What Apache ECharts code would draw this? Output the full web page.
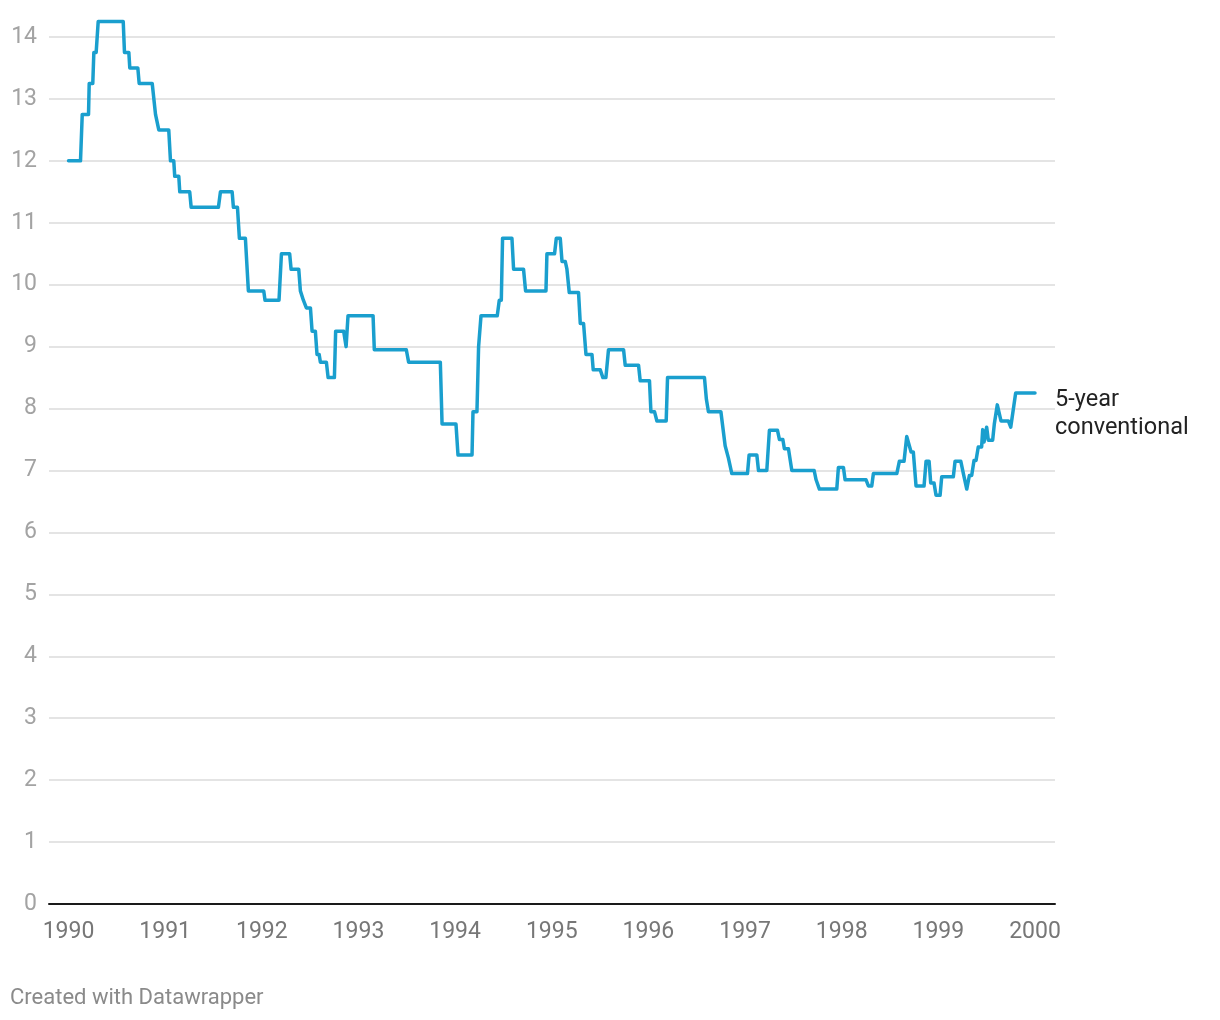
<!DOCTYPE html>
<html>
<head>
<meta charset="utf-8">
<script src="https://cdn.jsdelivr.net/npm/echarts@6/dist/echarts.min.js"></script>
<style>
html,body{margin:0;padding:0;background:#fff;}
#chart{width:1220px;height:1020px;}
</style>
</head>
<body>
<div id="chart"></div>
<script>
// Decimal-year positions and 5-year conventional mortgage rate (%)
const dates = [
1990.000,1990.124,1990.142,1990.207,1990.214,1990.251,1990.262,1990.286,1990.307,1990.566,
1990.579,1990.624,1990.634,1990.717,1990.731,1990.866,1990.900,1990.917,1990.934,1991.037,
1991.055,1991.089,1991.099,1991.141,1991.151,1991.254,1991.269,1991.551,1991.572,1991.693,
1991.706,1991.748,1991.768,1991.830,1991.861,1992.020,1992.033,1992.178,1992.203,1992.288,
1992.303,1992.382,1992.399,1992.416,1992.430,1992.461,1992.503,1992.520,1992.554,1992.571,
1992.593,1992.606,1992.668,1992.686,1992.751,1992.764,1992.847,1992.872,1992.892,1993.151,
1993.164,1993.495,1993.519,1993.847,1993.865,1994.009,1994.030,1994.175,1994.185,1994.226,
1994.243,1994.268,1994.436,1994.457,1994.478,1994.491,1994.588,1994.605,1994.708,1994.729,
1994.940,1994.950,1995.029,1995.047,1995.088,1995.106,1995.140,1995.157,1995.181,1995.277,
1995.295,1995.329,1995.354,1995.416,1995.429,1995.502,1995.529,1995.560,1995.587,1995.743,
1995.760,1995.898,1995.915,1996.011,1996.026,1996.063,1996.088,1996.184,1996.198,1996.580,
1996.600,1996.621,1996.750,1996.794,1996.812,1996.828,1996.846,1996.863,1997.025,1997.042,
1997.122,1997.139,1997.225,1997.252,1997.335,1997.356,1997.391,1997.407,1997.449,1997.484,
1997.715,1997.735,1997.749,1997.769,1997.949,1997.966,1998.018,1998.035,1998.252,1998.276,
1998.311,1998.328,1998.570,1998.597,1998.645,1998.673,1998.690,1998.718,1998.741,1998.769,
1998.852,1998.873,1998.904,1998.921,1998.955,1998.976,1999.018,1999.035,1999.155,1999.173,
1999.232,1999.259,1999.276,1999.294,1999.321,1999.345,1999.369,1999.390,1999.413,1999.448,
1999.459,1999.473,1999.500,1999.517,1999.562,1999.579,1999.593,1999.610,1999.620,1999.648,
1999.724,1999.749,1999.765,1999.800,2000.000
];
const rates = [
12.0,12.0,12.75,12.75,13.25,13.25,13.75,13.75,14.25,14.25,
13.75,13.75,13.5,13.5,13.25,13.25,12.75,12.75,12.5,12.5,
12.0,12.0,11.75,11.75,11.5,11.5,11.25,11.25,11.5,11.5,
11.25,11.25,10.75,10.75,9.9,9.9,9.75,9.75,10.5,10.5,
10.25,10.25,9.9,9.9,9.75,9.625,9.625,9.25,9.25,8.875,
8.875,8.75,8.75,8.5,8.5,9.25,9.25,9.0,9.5,9.5,
8.95,8.95,8.75,8.75,7.75,7.75,7.25,7.25,7.95,7.95,
9.0,9.5,9.5,9.75,9.75,10.75,10.75,10.25,10.25,9.9,
9.9,10.5,10.5,10.75,10.75,10.375,10.375,10.25,9.875,9.875,
9.375,9.375,8.875,8.875,8.625,8.625,8.5,8.5,8.95,8.95,
8.7,8.7,8.45,8.45,7.95,7.95,7.8,7.8,8.5,8.5,
8.15,7.95,7.95,7.4,7.4,7.2,7.2,6.95,6.95,7.25,
7.25,7.0,7.0,7.65,7.65,7.5,7.5,7.35,7.35,7.0,
7.0,6.85,6.85,6.7,6.7,7.05,7.05,6.85,6.85,6.75,
6.75,6.95,6.95,7.15,7.15,7.55,7.55,7.3,7.3,6.75,
6.75,7.15,7.15,6.8,6.8,6.6,6.6,6.9,6.9,7.15,
7.15,6.95,6.95,6.7,6.92,6.92,7.16,7.16,7.38,7.38,
7.66,7.46,7.7,7.49,7.49,7.75,7.75,8.06,8.06,7.8,
7.8,7.7,7.7,8.25,8.25
];
const yearTicks = [1990,1991,1992,1993,1994,1995,1996,1997,1998,1999,2000];
const seriesName = '5-year\nconventional';
const footer = 'Created with Datawrapper';

const chart = echarts.init(document.getElementById('chart'));
chart.setOption({
  animation: false,
  backgroundColor: '#ffffff',
  textStyle: { fontFamily: 'Roboto' },
  title: {
    text: footer, left: 10, top: 987, padding: 0,
    textStyle: { fontFamily: 'Roboto', fontSize: 22, fontWeight: 'normal', color: '#8a8a8a' }
  },
  grid: { left: 49, right: 165, top: 37, bottom: 116, containLabel: false },
  xAxis: {
    type: 'value',
    min: 1989.798, max: 2000.207,
    axisLine: { show: true, lineStyle: { color: '#1a1a1a', width: 2 } },
    axisTick: { show: false },
    splitLine: { show: false },
    axisLabel: {
      customValues: yearTicks,
      formatter: v => String(Math.round(v)),
      color: '#777777', fontSize: 23, fontFamily: 'Roboto', margin: 17
    }
  },
  yAxis: {
    type: 'value', min: 0, max: 14, interval: 1,
    axisLine: { show: false }, axisTick: { show: false },
    splitLine: { show: true, lineStyle: { color: '#e4e4e4', width: 2 } },
    axisLabel: { color: '#a3a3a3', fontSize: 23, fontFamily: 'Roboto', margin: 12 }
  },
  series: [{
    type: 'line',
    name: seriesName,
    data: dates.map((d, i) => [d, rates[i]]),
    showSymbol: false,
    clip: false,
    lineStyle: { color: '#1a9fce', width: 3.5, join: 'round', cap: 'round' },
    endLabel: {
      show: true,
      formatter: seriesName,
      color: '#222222', fontSize: 23.5, fontFamily: 'Roboto', lineHeight: 28,
      align: 'left', offset: [12, 21]
    }
  }]
});
</script>
</body>
</html>
